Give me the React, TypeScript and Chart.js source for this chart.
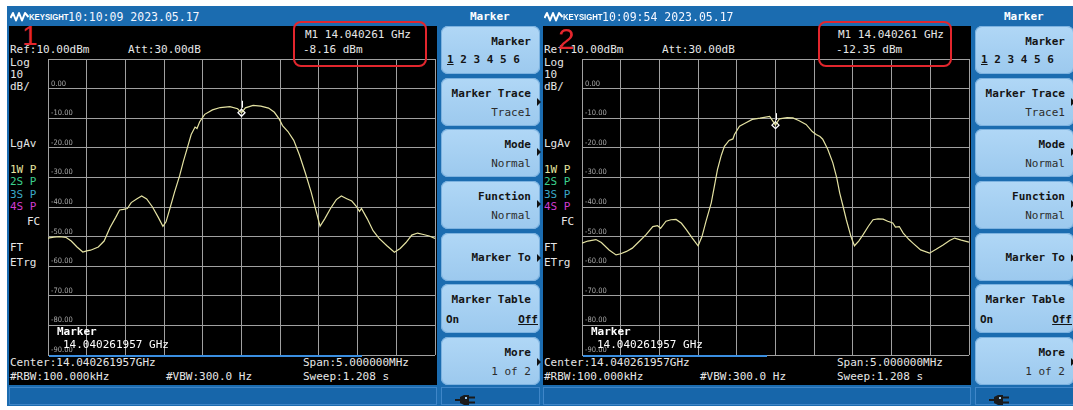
import React, { useEffect, useRef } from "react";
import { Chart, registerables } from "chart.js";

Chart.register(...registerables);

// ---------------- data ----------------
// frequency offsets from centre (MHz) and measured levels (dBm)
const freqOffsetsMHz1 = [
  -2.5, -2.425, -2.35, -2.265, -2.2, -2.125, -2.05, -2.0, -1.95, -1.85,
  -1.775, -1.7, -1.625, -1.575, -1.525, -1.475, -1.425, -1.35, -1.29, -1.225,
  -1.15, -1.075, -1.015, -0.975, -0.925, -0.865, -0.8, -0.75, -0.7, -0.65,
  -0.6, -0.575, -0.54, -0.475, -0.375, -0.275, -0.15, -0.05, 0, 0.05,
  0.15, 0.25, 0.35, 0.425, 0.49, 0.53, 0.6, 0.675, 0.75, 0.825,
  0.9, 0.975, 1.015, 1.075, 1.15, 1.225, 1.29, 1.36, 1.425, 1.475,
  1.525, 1.55, 1.625, 1.7, 1.775, 1.875, 1.975, 2.05, 2.125, 2.2,
  2.275, 2.35, 2.425, 2.5,
];
const levelsDbm1 = [
  -50.5, -50.2, -50.0, -50.3, -51.5, -53.5, -55.2, -54.8, -54.6, -53.5,
  -51.5, -47.0, -43.5, -41.0, -40.8, -40.5, -38.5, -37.2, -36.3, -37.3,
  -40.0, -43.5, -46.5, -45.0, -40.5, -35.0, -29.5, -24.5, -20.0, -15.5,
  -13.0, -13.5, -11.2, -8.7, -7.2, -6.4, -6.1, -6.8, -8.2, -6.5,
  -5.7, -5.9, -6.6, -8.0, -10.4, -12.5, -14.5, -17.5, -22.5, -28.5,
  -35.0, -42.5, -46.5, -44.0, -40.5, -37.5, -36.3, -37.2, -38.0, -39.5,
  -41.5, -40.5, -44.0, -48.0, -50.5, -53.0, -55.3, -54.0, -52.0, -49.5,
  -48.8, -49.3, -49.8, -50.6,
];
const freqOffsetsMHz2 = [
  -2.5, -2.425, -2.32, -2.25, -2.15, -2.06, -2.0, -1.925, -1.85, -1.775,
  -1.675, -1.585, -1.525, -1.485, -1.415, -1.35, -1.285, -1.215, -1.15, -1.075,
  -1.0, -0.95, -0.9, -0.83, -0.79, -0.75, -0.7, -0.66, -0.6, -0.55,
  -0.53, -0.465, -0.4, -0.3, -0.2, -0.075, 0, 0.05, 0.15, 0.225,
  0.3, 0.395, 0.475, 0.525, 0.575, 0.61, 0.675, 0.74, 0.79, 0.83,
  0.875, 0.915, 0.975, 1.02, 1.075, 1.13, 1.2, 1.26, 1.325, 1.39,
  1.45, 1.515, 1.55, 1.6, 1.65, 1.725, 1.775, 1.875, 1.99, 2.075,
  2.165, 2.25, 2.315, 2.4, 2.5,
];
const levelsDbm2 = [
  -52.2, -51.5, -51.0, -52.0, -54.5, -56.2, -55.8, -55.0, -53.9, -52.0,
  -49.4, -46.6, -46.3, -47.2, -44.8, -44.3, -44.2, -45.5, -47.7, -50.5,
  -53.1, -50.0, -45.0, -38.6, -33.0, -27.4, -22.5, -19.5, -17.5, -17.0,
  -15.5, -12.7, -11.8, -10.4, -10.0, -9.4, -12.35, -10.2, -9.8, -9.9,
  -10.8, -12.1, -14.5, -15.5, -16.2, -17.1, -20.5, -25.0, -30.0, -35.3,
  -40.0, -44.3, -50.0, -53.1, -51.5, -49.4, -46.5, -44.3, -44.0, -44.1,
  -44.8, -45.4, -46.8, -46.6, -48.8, -51.0, -52.2, -54.5, -55.6, -54.3,
  -52.8, -51.3, -50.5, -51.2, -51.9,
];
const markerOffsetsMHz = [0, 0];
const markerLevelsDbm = [-8.16, -12.35];
const timeStamps = ["10:10:09 2023.05.17", "10:09:54 2023.05.17"];
const panelNumbers = ["1", "2"];
const refLevelDbm = 10;
const dbPerDiv = 10;
const divisions = 10;
const spanMHz = 5;
const softkeyTitles = ["Marker", "Marker Trace", "Mode", "Function", "Marker To", "Marker Table", "More"];
const softkeyValues = ["1 2 3 4 5 6", "Trace1", "Normal", "Normal", "", "On|Off", "1 of 2"];

// ---------------- styling ----------------
const MONO = '"DejaVu Sans Mono", "Liberation Mono", monospace';
const BLUE = "#1b6cb0";
const TEXT = "#e6e6e6";

function Txt(props: any) {
  const { x, y, c = TEXT, size = 11, bold = false, children, extra } = props;
  return (
    <div
      style={{
        position: "absolute",
        left: x,
        top: y - 8,
        height: 16,
        lineHeight: "16px",
        fontFamily: MONO,
        fontSize: size,
        fontWeight: bold ? 700 : 400,
        color: c,
        whiteSpace: "pre",
        ...(extra || {}),
      }}
    >
      {children}
    </div>
  );
}

const markerTick = {
  id: "markerTick",
  afterDatasetsDraw(chart: any) {
    const pt = chart.getDatasetMeta(1).data[0];
    if (!pt) return;
    const ctx = chart.ctx;
    const x = Math.round(pt.x) + 0.5;
    ctx.save();
    ctx.strokeStyle = "#ffffff";
    ctx.lineWidth = 1;
    ctx.beginPath();
    ctx.moveTo(x, pt.y - 12);
    ctx.lineTo(x, pt.y - 5);
    ctx.stroke();
    ctx.restore();
  },
};

function zeroFit(scale: any) {
  if (scale.isHorizontal()) scale.height = 0;
  else scale.width = 0;
  scale.paddingTop = 0;
  scale.paddingBottom = 0;
  scale.paddingLeft = 0;
  scale.paddingRight = 0;
}

function SpectrumCanvas(props: any) {
  const { freqs, levels, markerFreq, markerLevel } = props;
  const ref = useRef<HTMLCanvasElement>(null);
  useEffect(() => {
    const grid = { color: "#a0a0a0", lineWidth: 1, drawTicks: false };
    const chart = new Chart(ref.current as HTMLCanvasElement, {
      type: "line",
      data: {
        datasets: [
          {
            data: freqs.map((f: number, i: number) => ({ x: f, y: levels[i] })),
            borderColor: "#e4e2a2",
            borderWidth: 1.2,
            pointRadius: 0,
            tension: 0,
          },
          {
            data: [{ x: markerFreq, y: markerLevel }],
            showLine: false,
            pointStyle: "rectRot",
            pointRadius: 3.5,
            borderColor: "#ffffff",
            backgroundColor: "rgba(0,0,0,0)",
            borderWidth: 1.3,
          },
        ],
      },
      options: {
        animation: false,
        responsive: false,
        maintainAspectRatio: false,
        layout: { padding: 2, autoPadding: false },
        plugins: { legend: { display: false }, tooltip: { enabled: false } },
        scales: {
          x: {
            type: "linear",
            min: -spanMHz / 2,
            max: spanMHz / 2,
            ticks: { display: false, stepSize: spanMHz / divisions },
            grid,
            border: { display: false },
            afterFit: zeroFit,
          },
          y: {
            type: "linear",
            min: refLevelDbm - dbPerDiv * divisions,
            max: refLevelDbm,
            ticks: {
              stepSize: dbPerDiv,
              mirror: true,
              padding: 3,
              labelOffset: -5,
              color: "#a8a8a8",
              font: { family: '"DejaVu Sans Condensed", "Liberation Sans Narrow", sans-serif', size: 7.5 },
              callback: (v: any) => (Number(v) >= refLevelDbm ? "" : Number(v).toFixed(2)),
            },
            grid,
            border: { display: false },
            afterFit: zeroFit,
          },
        },
      } as any,
      plugins: [markerTick],
    });
    return () => chart.destroy();
  }, []);
  return (
    <canvas
      ref={ref}
      width={391}
      height={300}
      style={{ position: "absolute", left: 39, top: 57, width: 391, height: 300 }}
    />
  );
}

function Arrow({ x, y }: any) {
  return (
    <div
      style={{
        position: "absolute",
        left: x,
        top: y - 4,
        width: 0,
        height: 0,
        borderLeft: "4px solid #111",
        borderTop: "4px solid transparent",
        borderBottom: "4px solid transparent",
      }}
    />
  );
}

function Softkeys() {
  const tops = [26, 78, 129, 181, 233, 284, 337];
  const keyText = { fontFamily: MONO, fontSize: 11, color: "#141414", whiteSpace: "pre" as const };
  return (
    <>
      {tops.map((t, i) => {
        const title = softkeyTitles[i];
        const val = softkeyValues[i];
        const single = val === "";
        return (
          <div
            key={i}
            style={{
              position: "absolute",
              left: 434,
              top: t,
              width: 99,
              height: i === 5 ? 49 : 48,
              borderRadius: 7,
              background: "linear-gradient(#b0d7f6, #9cc9ee)",
              boxShadow: "inset 0 0 0 1px #7cb2e0",
            }}
          >
            <div
              style={{
                position: "absolute",
                right: 9,
                top: single ? 17 : 8,
                lineHeight: "16px",
                fontWeight: 700,
                ...keyText,
              }}
            >
              {title}
            </div>
            {i === 0 && (
              <div style={{ position: "absolute", left: 6, top: 26, lineHeight: "16px", fontWeight: 700, ...keyText }}>
                <span style={{ textDecoration: "underline" }}>1</span>
                {val.slice(1)}
              </div>
            )}
            {i === 5 && (
              <>
                <div style={{ position: "absolute", left: 5, top: 28, lineHeight: "16px", fontWeight: 700, ...keyText }}>
                  {val.split("|")[0]}
                </div>
                <div
                  style={{
                    position: "absolute",
                    right: 2,
                    top: 28,
                    lineHeight: "16px",
                    fontWeight: 700,
                    textDecoration: "underline",
                    ...keyText,
                  }}
                >
                  {val.split("|")[1]}
                </div>
              </>
            )}
            {i !== 0 && i !== 5 && !single && (
              <div style={{ position: "absolute", right: 9, top: 27, lineHeight: "16px", ...keyText, color: "#2c2c2c" }}>
                {val}
              </div>
            )}
          </div>
        );
      })}
      <Arrow x={530} y={102} />
      <Arrow x={530} y={152} />
      <Arrow x={530} y={204} />
      <Arrow x={530} y={258} />
      <Arrow x={530} y={362} />
    </>
  );
}

function Logo() {
  return (
    <>
      <svg style={{ position: "absolute", left: 3, top: 11 }} width={19} height={11} viewBox="0 0 19 11">
        <polyline
          points="0.5,7 3,2 6,9.5 9,2 12,9.5 15,2 18.5,6"
          fill="none"
          stroke="#ffffff"
          strokeWidth={2}
          strokeLinejoin="round"
        />
      </svg>
      <div
        style={{
          position: "absolute",
          left: 22,
          top: 10,
          lineHeight: "14px",
          fontFamily: '"Liberation Sans", Arial, sans-serif',
          fontSize: 9,
          fontWeight: 700,
          color: "#ffffff",
          transform: "scaleX(0.86)",
          transformOrigin: "left center",
        }}
      >
        KEYSIGHT
      </div>
    </>
  );
}

function Plug() {
  return (
    <svg style={{ position: "absolute", left: 448, top: 394 }} width={22} height={12} viewBox="0 0 22 12">
      <rect x={0} y={5} width={5} height={2} fill="#1a1a1a" />
      <path d="M5 3 L9 1 L14 1 L14 11 L9 11 L5 9 Z" fill="#1a1a1a" />
      <rect x={14} y={2.5} width={6} height={2} fill="#1a1a1a" />
      <rect x={14} y={7.5} width={6} height={2} fill="#1a1a1a" />
      <rect x={10} y={3} width={2} height={2} fill="#9ac8ee" />
    </svg>
  );
}

function Screen(props: any) {
  const { x0, idx, freqs, levels, boxLeft, numLeft, numTop, numSize, progressW, readoutLeft } = props;
  const level = markerLevelsDbm[idx];
  return (
    <div style={{ position: "absolute", left: x0, top: 0, width: 534, height: 410 }}>
      {/* frame */}
      <div style={{ position: "absolute", left: 0, top: 6, width: 534, height: 400, background: BLUE }} />
      <Logo />
      <Txt x={61} y={17} c="#f4f6ff" size={11.5}>
        {timeStamps[idx]}
      </Txt>
      <Txt x={463} y={17} c="#ffffff" bold>
        Marker
      </Txt>
      {/* black display */}
      <div style={{ position: "absolute", left: 2, top: 26, width: 428, height: 359, background: "#000" }} />
      {/* status bars */}
      <div
        style={{
          position: "absolute",
          left: 2,
          top: 387,
          width: 426,
          height: 16,
          border: "1px solid #3f86c8",
          background: "#1766aa",
        }}
      />
      <div
        style={{
          position: "absolute",
          left: 434,
          top: 387,
          width: 97,
          height: 16,
          border: "1px solid #3f86c8",
          background: "#1766aa",
        }}
      />
      <Plug />
      <Softkeys />

      {/* annotation text */}
      <Txt x={3} y={50}>Ref:10.00dBm</Txt>
      <Txt x={121} y={50}>Att:30.00dB</Txt>
      <Txt x={readoutLeft} y={35}>{`M1 14.040261 GHz`}</Txt>
      <Txt x={readoutLeft - 2} y={50}>{`${level.toFixed(2)} dBm`}</Txt>
      <Txt x={3} y={63}>Log</Txt>
      <Txt x={3} y={75}>10</Txt>
      <Txt x={3} y={87}>dB/</Txt>
      <Txt x={3} y={144}>LgAv</Txt>
      <Txt x={3} y={170} c="#e8e4a0">1W P</Txt>
      <Txt x={3} y={182} c="#3ccf8e">2S P</Txt>
      <Txt x={3} y={195} c="#3aa8c8">3S P</Txt>
      <Txt x={3} y={207} c="#d23cd2">4S P</Txt>
      <Txt x={20} y={222}>FC</Txt>
      <Txt x={3} y={248}>FT</Txt>
      <Txt x={3} y={263}>ETrg</Txt>
      <Txt x={3} y={363}>Center:14.040261957GHz</Txt>
      <Txt x={3} y={377}>#RBW:100.000kHz</Txt>
      <Txt x={159} y={377}>#VBW:300.0 Hz</Txt>
      <Txt x={296} y={363}>Span:5.000000MHz</Txt>
      <Txt x={296} y={377}>Sweep:1.208 s</Txt>

      <SpectrumCanvas
        freqs={freqs}
        levels={levels}
        markerFreq={markerOffsetsMHz[idx]}
        markerLevel={level}
      />
      <div style={{ position: "absolute", left: 42, top: 355, width: progressW, height: 2, background: "#3a8ee0" }} />
      <Txt x={50} y={332} c="#ffffff" bold>Marker</Txt>
      <Txt x={56} y={345} c="#ffffff">14.040261957 GHz</Txt>

      {/* red annotations */}
      <div
        style={{
          position: "absolute",
          left: boxLeft,
          top: 21,
          width: 130,
          height: 42,
          border: "2px solid #e3262d",
          borderRadius: 8,
        }}
      />
      <div
        style={{
          position: "absolute",
          left: numLeft,
          top: numTop,
          lineHeight: `${numSize}px`,
          fontFamily: '"Liberation Sans", Arial, sans-serif',
          fontSize: numSize,
          color: "#e3262d",
        }}
      >
        {panelNumbers[idx]}
      </div>
    </div>
  );
}

export default function App() {
  return (
    <div
      style={{
        position: "fixed",
        left: 0,
        top: 0,
        width: 1073,
        height: 410,
        background: "#ffffff",
        overflow: "hidden",
      }}
    >
      <Screen
        x0={7}
        idx={0}
        freqs={freqOffsetsMHz1}
        levels={levelsDbm1}
        boxLeft={286}
        numLeft={15}
        numTop={22}
        numSize={28}
        progressW={313}
        readoutLeft={298}
      />
      <Screen
        x0={541}
        idx={1}
        freqs={freqOffsetsMHz2}
        levels={levelsDbm2}
        boxLeft={277}
        numLeft={17}
        numTop={24}
        numSize={30}
        progressW={184}
        readoutLeft={297}
      />
    </div>
  );
}
